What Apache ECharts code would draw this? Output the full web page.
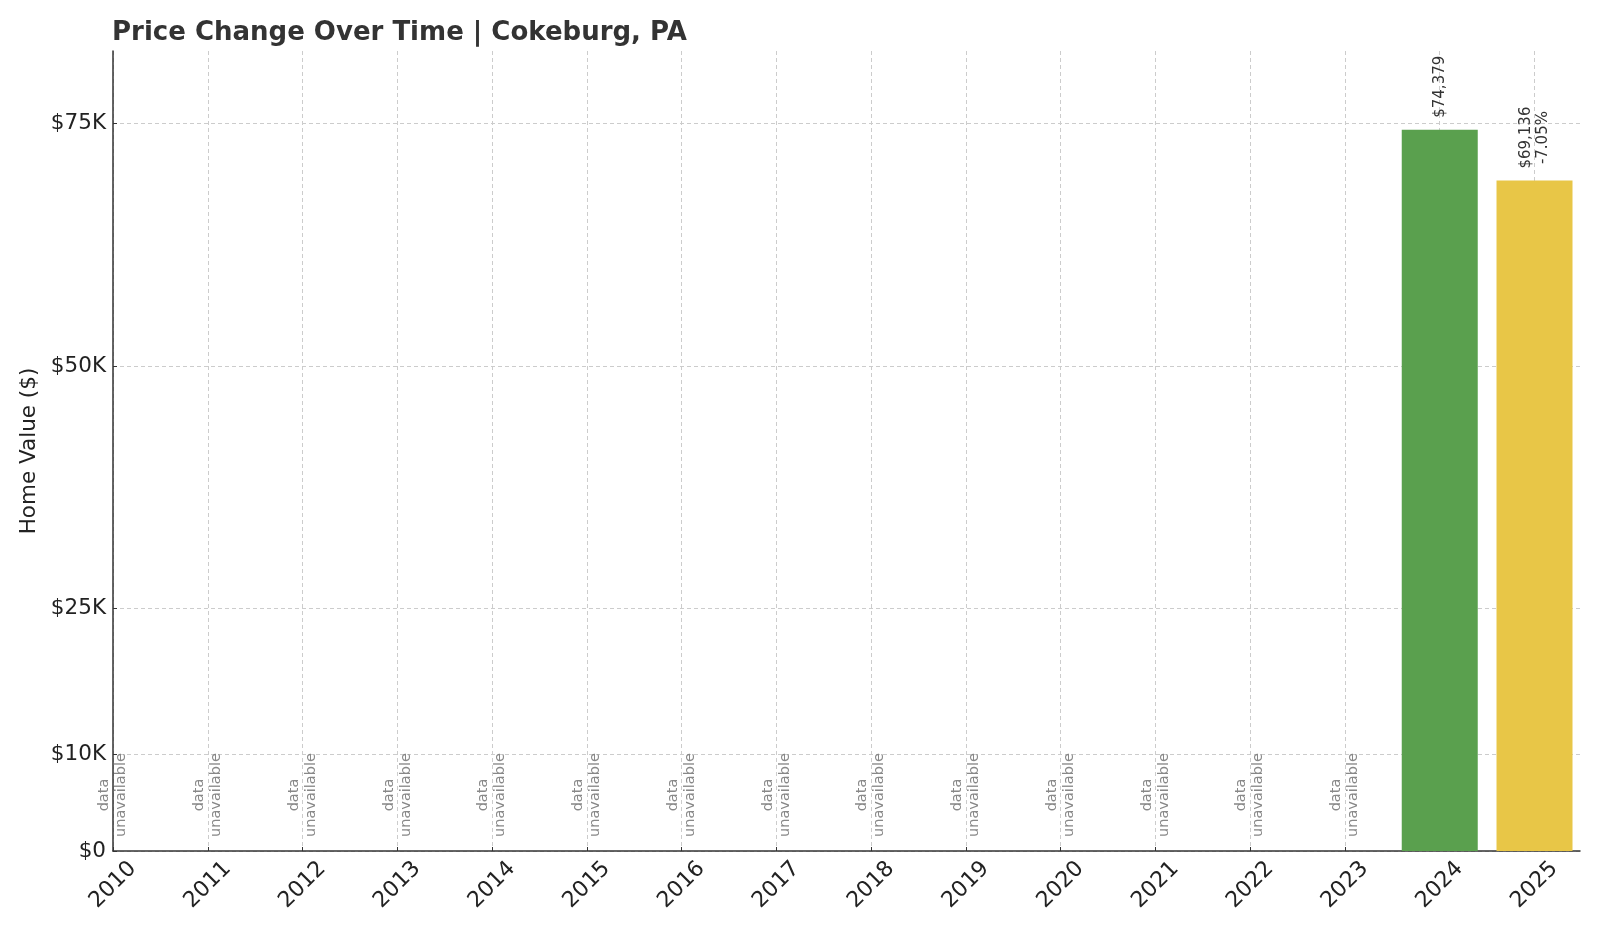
<!DOCTYPE html>
<html>
<head>
<meta charset="utf-8">
<script src="https://cdn.jsdelivr.net/npm/echarts@6/dist/echarts.min.js"></script>
<style>
  html, body { margin: 0; padding: 0; background: #fff; }
  #chart { width: 1600px; height: 933px; }
</style>
</head>
<body>
<div id="chart"></div>
<script>
// years and home values (null = data unavailable)
const years = [2010, 2011, 2012, 2013, 2014, 2015, 2016, 2017, 2018, 2019, 2020, 2021, 2022, 2023, 2024, 2025];
const homeValues = [null, null, null, null, null, null, null, null, null, null, null, null, null, null, 74379, 69136];
const yTicks = [0, 10000, 25000, 50000, 75000];

const FONT = "DejaVu Sans";
const GREEN = "#5aa04e";
const YELLOW = "#e8c647";

function money(v) {
  return "$" + v.toLocaleString("en-US");
}

function kLabel(v) {
  return v === 0 ? "$0" : "$" + (v / 1000) + "K";
}

// bars with a value, plus label text with % change vs previous year
let barData = [];
let missingData = [];
for (let i = 0; i < years.length; i++) {
  let v = homeValues[i];
  if (v == null) {
    missingData.push([years[i], 0]);
    continue;
  }
  let prev = i > 0 ? homeValues[i - 1] : null;
  let txt = money(v);
  let color = GREEN;
  if (prev != null) {
    let pct = (v - prev) / prev * 100;
    txt += "\n" + (pct >= 0 ? "+" : "") + pct.toFixed(2) + "%";
    if (pct < 0) color = YELLOW;
  }
  barData.push({ value: [years[i], v], labelText: txt, itemStyle: { color: color } });
}

let chart = echarts.init(document.getElementById("chart"));

chart.setOption({
  animation: false,
  backgroundColor: "#fff",
  textStyle: { fontFamily: FONT },
  title: {
    text: "Price Change Over Time | Cokeburg, PA",
    left: 107,
    top: 15,
    textStyle: { fontFamily: FONT, fontSize: 26, fontWeight: "bold", color: "#333" }
  },
  grid: { left: 113, right: 20, top: 51, bottom: 82 },
  xAxis: {
    type: "value",
    min: 2010,
    max: 2025.48,
    axisLine: { show: true, lineStyle: { color: "#333", width: 1.5 } },
    axisTick: { show: true, inside: true, length: 4, lineStyle: { color: "#333" }, customValues: years },
    axisLabel: {
      customValues: years,
      rotate: 45,
      align: "center",
      verticalAlign: "middle",
      margin: 34,
      fontSize: 22,
      color: "#222",
      fontFamily: FONT,
      formatter: (v) => String(v)
    },
    splitLine: { show: true, lineStyle: { color: "#cccccc", width: 1, type: [4, 3] } }
  },
  yAxis: {
    type: "value",
    min: 0,
    max: 82500,
    name: "Home Value ($)",
    nameLocation: "middle",
    nameGap: 73,
    nameTextStyle: { fontSize: 21.5, color: "#222", fontFamily: FONT },
    axisLine: { show: true, lineStyle: { color: "#333", width: 1.5 } },
    axisTick: { show: true, inside: true, length: 4, lineStyle: { color: "#333" }, customValues: yTicks },
    axisLabel: {
      customValues: yTicks,
      fontSize: 21.5,
      color: "#222",
      margin: 7,
      fontFamily: FONT,
      formatter: kLabel
    },
    splitLine: { show: true, lineStyle: { color: "#cccccc", width: 1, type: [4, 3] } }
  },
  series: [
    {
      name: "Home Value",
      type: "bar",
      barWidth: 76,
      barGap: "-100%",
      data: barData,
      // centred lines, anchor sits at the middle of the rotated text
      label: {
        show: true,
        position: "top",
        distance: 43,
        rotate: 90,
        align: "center",
        verticalAlign: "middle",
        fontSize: 15,
        lineHeight: 17,
        color: "#333",
        fontFamily: FONT,
        formatter: (p) => p.data.labelText
      }
    },
    {
      name: "Unavailable",
      type: "bar",
      barWidth: 76,
      barGap: "-100%",
      data: missingData,
      itemStyle: { color: "transparent" },
      label: {
        show: true,
        position: "top",
        distance: 56,
        rotate: 90,
        align: "center",
        verticalAlign: "middle",
        fontSize: 14.5,
        lineHeight: 17,
        color: "#888",
        fontFamily: FONT,
        formatter: "data\nunavailable"
      }
    }
  ]
});
</script>
</body>
</html>
